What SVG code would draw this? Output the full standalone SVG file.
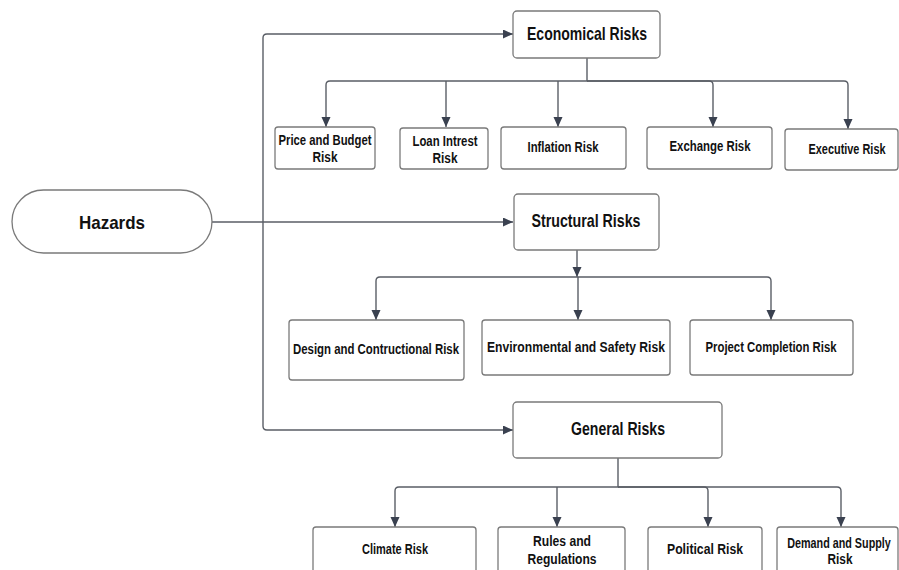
<svg xmlns="http://www.w3.org/2000/svg" width="899" height="570" viewBox="0 0 899 570">
<style>
.box{fill:#fff;stroke:#7a7a7a;stroke-width:1.3}
.c{fill:none;stroke:#5a5e66;stroke-width:1.4}
text{font-family:"Liberation Sans",Arial,sans-serif;font-weight:bold;fill:#111;text-anchor:middle}
.h{font-size:19px}
.m{font-size:19px}
.s{font-size:14px}
.t{font-size:14px}
</style>
<defs>
<marker id="ah" markerWidth="10" markerHeight="10" refX="10" refY="4.5" orient="auto" markerUnits="userSpaceOnUse">
<path d="M0,0 L10,4.5 L0,9 z" fill="#3a4150"/>
</marker>
</defs>
<rect width="899" height="570" fill="#fff"/>
<g id="connectors">
<path class="c" d="M212 222 H513" marker-end="url(#ah)"/>
<path class="c" d="M263 222 V38 Q263 34 267 34 H513" marker-end="url(#ah)"/>
<path class="c" d="M263 222 V426 Q263 430 267 430 H513" marker-end="url(#ah)"/>
<path class="c" d="M587 58 V81 H330 Q326 81 326 85 V127" marker-end="url(#ah)"/>
<path class="c" d="M446 81 V127" marker-end="url(#ah)"/>
<path class="c" d="M558 81 V127" marker-end="url(#ah)"/>
<path class="c" d="M587 81 H709 Q713 81 713 85 V127" marker-end="url(#ah)"/>
<path class="c" d="M587 81 H844 Q848 81 848 85 V129" marker-end="url(#ah)"/>
<path class="c" d="M577 250 V277" marker-end="url(#ah)"/>
<path class="c" d="M577 277 H380 Q376 277 376 281 V320" marker-end="url(#ah)"/>
<path class="c" d="M578 277 V320" marker-end="url(#ah)"/>
<path class="c" d="M577 277 H767 Q771 277 771 281 V320" marker-end="url(#ah)"/>
<path class="c" d="M618 458 V487 H399 Q395 487 395 491 V527" marker-end="url(#ah)"/>
<path class="c" d="M557 487 V527" marker-end="url(#ah)"/>
<path class="c" d="M618 487 H704 Q708 487 708 491 V527" marker-end="url(#ah)"/>
<path class="c" d="M618 487 H837 Q841 487 841 491 V527" marker-end="url(#ah)"/>
</g>
<g id="hazards">
<rect class="box" x="12" y="190" width="200" height="63" rx="31.5"/>
<text class="h" x="112" y="229" textLength="66" lengthAdjust="spacingAndGlyphs">Hazards</text>
</g>
<g id="economical">
<rect class="box" x="513" y="11" width="147" height="47" rx="4"/>
<text class="m" x="587" y="40" textLength="120" lengthAdjust="spacingAndGlyphs">Economical Risks</text>
</g>
<g id="price">
<rect class="box" x="275" y="127" width="100" height="42" rx="3"/>
<text class="s" x="325" y="145" textLength="93" lengthAdjust="spacingAndGlyphs">Price and Budget</text>
<text class="s" x="325" y="162" textLength="25" lengthAdjust="spacingAndGlyphs">Risk</text>
</g>
<g id="loan">
<rect class="box" x="400" y="128" width="88" height="41" rx="3"/>
<text class="s" x="445" y="146" textLength="65" lengthAdjust="spacingAndGlyphs">Loan Intrest</text>
<text class="s" x="445" y="163" textLength="25" lengthAdjust="spacingAndGlyphs">Risk</text>
</g>
<g id="inflation">
<rect class="box" x="501" y="127" width="125" height="42" rx="3"/>
<text class="s" x="563" y="152" textLength="71" lengthAdjust="spacingAndGlyphs">Inflation Risk</text>
</g>
<g id="exchange">
<rect class="box" x="647" y="127" width="125" height="42" rx="3"/>
<text class="s" x="710" y="151" textLength="81" lengthAdjust="spacingAndGlyphs">Exchange Risk</text>
</g>
<g id="executive">
<rect class="box" x="785" y="129" width="113" height="41" rx="3"/>
<text class="s" transform="translate(847,154) scale(0.78,1)" x="0" y="0">Executive Risk</text>
</g>
<g id="structural">
<rect class="box" x="514" y="194" width="145" height="56" rx="4"/>
<text class="m" x="586" y="227" textLength="109" lengthAdjust="spacingAndGlyphs">Structural Risks</text>
</g>
<g id="design">
<rect class="box" x="289" y="320" width="175" height="60" rx="3"/>
<text class="t" x="376" y="354" textLength="166" lengthAdjust="spacingAndGlyphs">Design and Contructional Risk</text>
</g>
<g id="environmental">
<rect class="box" x="482" y="320" width="188" height="55" rx="3"/>
<text class="t" x="576" y="352" textLength="178" lengthAdjust="spacingAndGlyphs">Environmental and Safety Risk</text>
</g>
<g id="project">
<rect class="box" x="690" y="320" width="163" height="55" rx="3"/>
<text class="t" x="771" y="352" textLength="131" lengthAdjust="spacingAndGlyphs">Project Completion Risk</text>
</g>
<g id="general">
<rect class="box" x="513" y="402" width="209" height="56" rx="4"/>
<text class="m" x="618" y="435" textLength="94" lengthAdjust="spacingAndGlyphs">General Risks</text>
</g>
<g id="climate">
<rect class="box" x="313" y="527" width="163" height="60" rx="3"/>
<text class="s" x="395" y="554" textLength="66" lengthAdjust="spacingAndGlyphs">Climate Risk</text>
</g>
<g id="rules">
<rect class="box" x="498" y="527" width="127" height="60" rx="3"/>
<text class="s" x="562" y="546" textLength="58" lengthAdjust="spacingAndGlyphs">Rules and</text>
<text class="s" x="562" y="564" textLength="69" lengthAdjust="spacingAndGlyphs">Regulations</text>
</g>
<g id="political">
<rect class="box" x="648" y="527" width="114" height="60" rx="3"/>
<text class="s" x="705" y="554" textLength="76" lengthAdjust="spacingAndGlyphs">Political Risk</text>
</g>
<g id="demand">
<rect class="box" x="777" y="527" width="121" height="60" rx="3"/>
<text class="s" transform="translate(839,548) scale(0.77,1)" x="0" y="0">Demand and Supply</text>
<text class="s" x="840" y="564" textLength="25" lengthAdjust="spacingAndGlyphs">Risk</text>
</g>
</svg>
